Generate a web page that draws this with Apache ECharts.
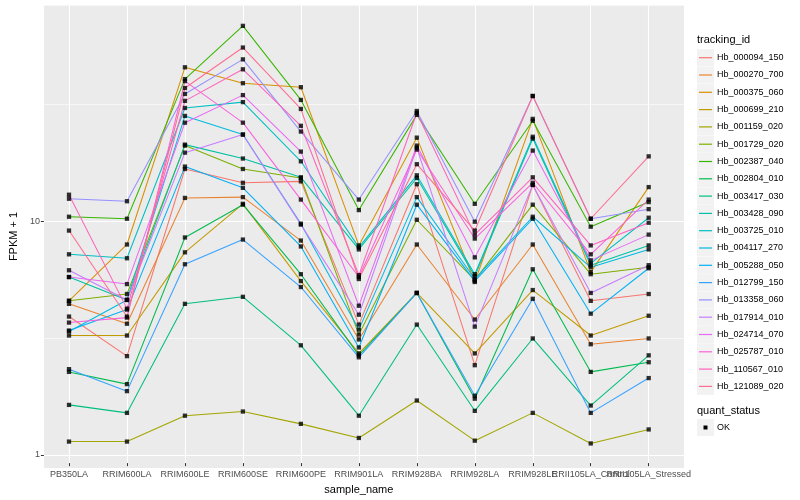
<!DOCTYPE html>
<html>
<head>
<meta charset="utf-8">
<script src="https://cdn.jsdelivr.net/npm/echarts@6/dist/echarts.min.js"></script>
<style>html,body{margin:0;padding:0;background:#fff;}#c{width:800px;height:500px;}</style>
</head>
<body>
<div id="c"></div>
<script>
const categories = ['PB350LA','RRIM600LA','RRIM600LE','RRIM600SE','RRIM600PE','RRIM901LA','RRIM928BA','RRIM928LA','RRIM928LE','RRII105LA_Control','RRII105LA_Stressed'];
const trackingIds = ['Hb_000094_150','Hb_000270_700','Hb_000375_060','Hb_000699_210','Hb_001159_020','Hb_001729_020','Hb_002387_040','Hb_002804_010','Hb_003417_030','Hb_003428_090','Hb_003725_010','Hb_004117_270','Hb_005288_050','Hb_012799_150','Hb_013358_060','Hb_017914_010','Hb_024714_070','Hb_025787_010','Hb_110567_010','Hb_121089_020'];
const colors = ['#F8766D','#EA8331','#D89000','#C09B00','#A3A500','#7CAE00','#39B600','#00BB4E','#00BF7D','#00C1A3','#00BFC4','#00BAE0','#00B0F6','#35A2FF','#9590FF','#C77CFF','#E76BF3','#FA62DB','#FF62BC','#FF6C91'];

const v000094 = [3.78,2.55,16.4,14.3,14.5,3.49,14.1,2.33,14.0,4.42,4.73];
const v000270 = [4.29,3.52,12.3,12.4,8.05,3.01,7.74,3.67,7.74,2.87,3.04];
const v000375 = [4.42,7.74,45.1,38.5,37.0,7.67,22.4,5.33,27.0,5.88,13.7];
const v000699 = [3.13,3.13,7.16,11.6,5.38,2.62,4.78,2.62,4.92,3.13,3.81];
const v001159 = [1.09,1.09,1.41,1.47,1.30,1.13,1.64,1.10,1.45,1.07,1.23];
const v001729 = [4.42,4.73,20.7,16.4,15.0,3.16,9.90,5.43,11.5,5.76,6.17];
const v002387 = [10.2,10.0,40.1,68.1,32.6,10.9,28.1,11.6,26.5,9.24,11.8];
const v002804 = [2.18,1.93,8.30,11.5,5.76,2.57,4.78,1.67,6.05,2.18,2.40];
const v003417 = [1.57,1.45,4.29,4.60,2.84,1.41,3.49,1.48,3.04,1.56,2.57];
const v003428 = [5.60,4.46,20.9,18.2,15.1,7.37,15.0,5.65,22.2,6.30,7.67];
const v003725 = [7.02,6.75,30.1,31.9,17.7,7.52,15.4,5.76,22.6,6.42,10.1];
const v004117 = [3.26,4.46,27.8,23.1,9.52,3.32,12.4,5.49,10.2,6.17,7.37];
const v005288 = [3.29,4.05,16.8,13.6,7.59,2.78,11.5,5.38,10.0,3.89,6.11];
const v012799 = [2.24,1.80,6.36,8.13,5.07,2.52,4.78,1.72,4.51,1.45,2.05];
const v013358 = [12.2,11.9,34.6,48.8,23.8,12.1,29.2,9.71,33.9,10.0,11.0];
const v017914 = [5.99,4.46,19.3,23.1,9.43,3.85,20.3,3.42,14.0,4.78,6.30];
const v024714 = [5.60,5.22,26.0,34.2,19.5,4.21,20.7,6.81,19.7,6.61,8.54];
const v025787 = [3.56,3.74,39.3,26.0,12.1,5.60,19.9,8.21,14.3,7.02,12.1];
const v110567 = [12.7,4.09,32.3,44.2,25.2,5.71,28.7,8.54,15.1,7.67,9.61];
const v121089 = [8.89,3.78,36.7,54.9,29.8,5.49,17.2,8.89,33.9,10.0,18.6];

const seriesValues = [v000094,v000270,v000375,v000699,v001159,v001729,v002387,v002804,v003417,v003428,v003725,v004117,v005288,v012799,v013358,v017914,v024714,v025787,v110567,v121089];
const yTicks = [1, 10];
const yMin = 0.88, yMax = 83.8;

const FONT = 'Liberation Sans, Arial, sans-serif';
const chart = echarts.init(document.getElementById('c'), null, {renderer: 'canvas'});

const lineSeries = seriesValues.map((vals, i) => ({
  name: trackingIds[i],
  type: 'line',
  xAxisIndex: 1, yAxisIndex: 2,
  data: vals,
  showSymbol: false,
  symbol: 'none',
  lineStyle: {color: colors[i], width: 1.05},
  itemStyle: {color: colors[i]},
  animation: false,
  z: 2
}));
const pointData = [];
seriesValues.forEach(vals => vals.forEach((v, j) => pointData.push([j, v])));
const pointSeries = {
  name: 'OK', type: 'scatter', xAxisIndex: 1, yAxisIndex: 2,
  data: pointData, symbol: 'rect', symbolSize: 4.3,
  itemStyle: {color: '#000'}, animation: false, z: 5
};

const graphics = [];
graphics.push({type: 'text', left: 697, top: 34, style: {text: 'tracking_id', font: '11px ' + FONT, fill: '#000'}});
trackingIds.forEach((id, i) => {
  const cy = 57.7 + 17.3 * i;
  graphics.push({type: 'rect', shape: {x: 697, y: cy - 8.5, width: 17, height: 17}, style: {fill: '#F2F2F2'}});
  graphics.push({type: 'line', shape: {x1: 699, y1: cy, x2: 712, y2: cy}, style: {stroke: colors[i], lineWidth: 1.2}});
  graphics.push({type: 'text', x: 717, y: cy, style: {text: id, font: '9px ' + FONT, fill: '#000', verticalAlign: 'middle'}});
});
graphics.push({type: 'text', left: 697, top: 405, style: {text: 'quant_status', font: '11px ' + FONT, fill: '#000'}});
graphics.push({type: 'rect', shape: {x: 697, y: 419, width: 17, height: 17}, style: {fill: '#F2F2F2'}});
graphics.push({type: 'rect', shape: {x: 703.5, y: 425.5, width: 4, height: 4}, style: {fill: '#000'}});
graphics.push({type: 'text', x: 717, y: 427.5, style: {text: 'OK', font: '9px ' + FONT, fill: '#000', verticalAlign: 'middle'}});

chart.setOption({
  animation: false,
  backgroundColor: '#fff',
  grid: [
    {left: 35, right: 116, top: 5, bottom: 32, show: true, backgroundColor: '#EBEBEB', borderWidth: 0},
    {left: 69, right: 151.3, top: 5, bottom: 32, show: false}
  ],
  xAxis: [
    {gridIndex: 0, type: 'value', min: 0, max: 1, show: false},
    {gridIndex: 1, type: 'category', data: categories, boundaryGap: false,
     axisLine: {show: false},
     axisTick: {show: true, length: 3, interval: 0, lineStyle: {color: '#333', width: 1}},
     axisLabel: {interval: 0, hideOverlap: false, fontSize: 9, color: '#4D4D4D', fontFamily: FONT, margin: 7},
     splitLine: {show: true, interval: 0, lineStyle: {color: '#fff', width: 1.1}},
     name: 'sample_name', nameLocation: 'middle', nameGap: 14,
     nameTextStyle: {fontSize: 11, color: '#000', fontFamily: FONT}}
  ],
  yAxis: [
    {gridIndex: 0, type: 'log', logBase: 10, min: yMin, max: yMax,
     axisLine: {show: false},
     axisTick: {show: true, length: 3, customValues: yTicks, lineStyle: {color: '#333'}},
     axisLabel: {customValues: yTicks, fontSize: 9, color: '#4D4D4D', fontFamily: FONT, margin: 4,
       formatter: v => (Math.abs(v - 1) < 1e-6 ? '1' : (Math.abs(v - 10) < 1e-6 ? '10' : ''))},
     splitLine: {show: true, lineStyle: {color: '#fff', width: 1.1}},
     name: 'FPKM + 1', nameLocation: 'middle', nameGap: 20,
     nameTextStyle: {fontSize: 11, color: '#000', fontFamily: FONT}},
    {gridIndex: 0, type: 'log', logBase: Math.sqrt(10), min: yMin, max: yMax,
     axisLine: {show: false}, axisTick: {show: false}, axisLabel: {show: false},
     splitLine: {show: true, lineStyle: {color: '#fff', width: 0.6}}},
    {gridIndex: 1, type: 'log', logBase: 10, min: yMin, max: yMax, show: false}
  ],
  series: lineSeries.concat([pointSeries]),
  graphic: graphics
});
</script>
</body>
</html>
